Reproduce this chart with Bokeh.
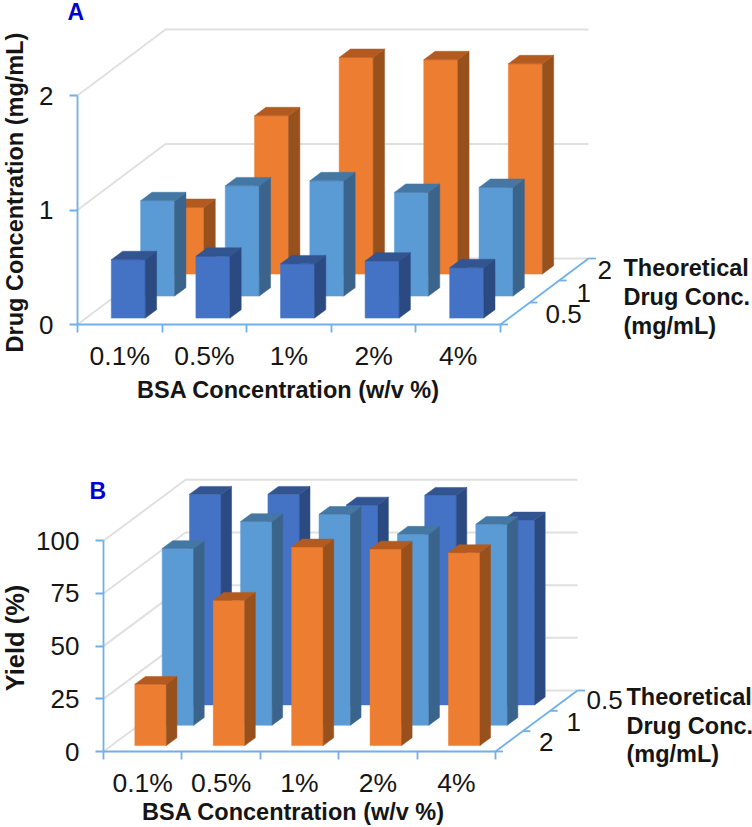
from bokeh.plotting import figure
from bokeh.layouts import column
from bokeh.models import LinearAxis, FixedTicker, Range1d, Label
from bokeh.embed import file_html
from bokeh.resources import INLINE

categories = ["0.1%", "0.5%", "1%", "2%", "4%"]

# Panel A: drug concentration (mg/mL), front to back
a_depth_labels = ["0.5", "1", "2"]
a_conc_05 = [0.51, 0.54, 0.474, 0.498, 0.44]
a_conc_1 = [0.833, 0.963, 1.007, 0.906, 0.949]
a_conc_2 = [0.582, 1.383, 1.892, 1.872, 1.837]
a_ticks = [0, 1, 2]

# Panel B: yield (%), front to back
b_depth_labels = ["2", "1", "0.5"]
b_yield_2 = [29.1, 69.0, 94.3, 93.3, 91.6]
b_yield_1 = [83.9, 96.7, 100.1, 90.7, 95.4]
b_yield_05 = [100.0, 100.0, 94.9, 99.5, 87.8]
b_ticks = [0, 25, 50, 75, 100]

DARK = ("#4472c4", "#2c4a82", "#325490")
LIGHT = ("#5b9bd5", "#3a648c", "#4477a3")
ORANGE = ("#ed7d31", "#98501c", "#b35a20")

AXIS = "#6fb0ea"
GRID = "#e0e0e0"
INK = "#151515"
SANS = "Liberation Sans"


def panel(height, y0, x0, cw, vs, dx, dy, ticks, series, depth_labels, label_px):
    """dx, dy: screen offset of one depth step; cw: px per category; vs: px per value unit."""
    W = 752
    X = lambda px: (px - x0) / cw
    Y = lambda py: (y0 - py) / vs
    ddx, ddy = dx / cw, dy / vs

    p = figure(width=W, height=height, output_backend="svg", toolbar_location=None,
               x_range=Range1d(X(0), X(W)), y_range=Range1d(Y(height), Y(0)),
               x_axis_type=None, y_axis_type=None,
               min_border_left=0, min_border_right=0, min_border_top=0,
               min_border_bottom=0, outline_line_color=None)
    p.xgrid.visible = False
    p.ygrid.visible = False

    # walls and floor
    for t in ticks:
        p.line([0, 3 * ddx, 5 + 3 * ddx], [t, t + 3 * ddy, t + 3 * ddy],
               line_color=GRID, line_width=2)

    # bars, back row first
    front_d, back_d, bar_w = 0.29, 0.675, 0.402
    for d in reversed(range(3)):
        vals, (c_front, c_side, c_top) = series[d]
        for i, v in enumerate(vals):
            l = i + (1 - bar_w) / 2
            r = l + bar_w
            fx, fy = (d + front_d) * ddx, (d + front_d) * ddy
            bx, by = (d + back_d) * ddx, (d + back_d) * ddy
            p.patch([l + fx, r + fx, r + fx, l + fx], [fy, fy, v + fy, v + fy],
                    fill_color=c_front, line_color=c_front, line_width=0.5)
            p.patch([r + fx, r + bx, r + bx, r + fx], [fy, by, v + by, v + fy],
                    fill_color=c_side, line_color=c_side, line_width=0.5)
            p.patch([l + fx, r + fx, r + bx, l + bx], [v + fy, v + fy, v + by, v + by],
                    fill_color=c_top, line_color=c_top, line_width=0.5)

    # depth axis
    p.line([5, 5 + 3 * ddx], [0, 3 * ddy], line_color=AXIS, line_width=1.8)
    for d in range(4):
        p.line([5 + d * ddx, 5 + d * ddx + 7.5 / cw], [d * ddy, d * ddy],
               line_color=AXIS, line_width=1.8)

    # real axes, pinned inside the full-page frame
    xa = LinearAxis(ticker=FixedTicker(ticks=[i + 0.5 for i in range(5)],
                                       minor_ticks=list(range(6))),
                    bounds=(0, 5), fixed_location=0,
                    major_label_overrides={i + 0.5: c for i, c in enumerate(categories)},
                    axis_line_color=AXIS, axis_line_width=1.8,
                    major_tick_line_color=None, major_tick_in=0, major_tick_out=0,
                    minor_tick_line_color=AXIS, minor_tick_line_width=1.8,
                    minor_tick_in=0, minor_tick_out=8,
                    major_label_standoff=label_px["xstand"],
                    major_label_text_font=SANS, major_label_text_font_size="26.5px",
                    major_label_text_color=INK)
    p.add_layout(xa, "below")
    ya = LinearAxis(ticker=FixedTicker(ticks=ticks, minor_ticks=[]),
                    bounds=(ticks[0], ticks[-1]), fixed_location=0,
                    axis_line_color=AXIS, axis_line_width=1.8,
                    major_tick_line_color=AXIS, major_tick_line_width=1.8,
                    major_tick_in=0, major_tick_out=8, minor_tick_line_color=None,
                    major_label_standoff=16,
                    major_label_text_font=SANS, major_label_text_font_size="26px",
                    major_label_text_color=INK)
    p.add_layout(ya, "left")

    # free texts
    def lab(text, px, py, size, bold=True, color=INK, angle=0, align="left"):
        p.add_layout(Label(x=X(px), y=Y(py), text=text, text_font=SANS,
                           text_font_size=f"{size}px",
                           text_font_style="bold" if bold else "normal",
                           text_color=color, angle=angle, angle_units="deg",
                           text_align=align, text_baseline="middle"))

    for text, (px, py) in zip(depth_labels, label_px["depth"]):
        lab(text, px, py, 26, bold=False)
    lab(label_px["ytitle"][0], *label_px["ytitle"][1:3], label_px["ytitle"][3], angle=90, align="center")
    lab("BSA Concentration (w/v %)", *label_px["xtitle"], 23.5, align="center")
    for line, (px, py) in zip(["Theoretical", "Drug Conc.", "(mg/mL)"], label_px["theo"]):
        lab(line, px, py, 23.5)
    lab(label_px["letter"][0], *label_px["letter"][1:], 23, color="#0000d0")
    return p


pa = panel(415, 324, 77, 84.6, 114.5, 88 / 3, 22.0, a_ticks,
           [(a_conc_05, DARK), (a_conc_1, LIGHT), (a_conc_2, ORANGE)], a_depth_labels,
           dict(xstand=8,
                depth=[(545, 313), (576, 292), (597, 269)],
                ytitle=("Drug Concentration (mg/mL)", 14, 192, 23.5),
                xtitle=(288, 389),
                theo=[(623, 267), (623, 296), (623, 325)],
                letter=("A", 67, 11)))
pb = panel(412, 336, 103, 78.4, 2.107, 82 / 3, 61 / 3, b_ticks,
           [(b_yield_2, ORANGE), (b_yield_1, LIGHT), (b_yield_05, DARK)], b_depth_labels,
           dict(xstand=8,
                depth=[(538.5, 326), (566, 306), (586, 284)],
                ytitle=("Yield (%)", 14, 222.5, 25.5),
                xtitle=(293, 396.5),
                theo=[(626, 281.5), (626, 310), (626, 338)],
                letter=("B", 89, 75.5)))

page = column(pa, pb, spacing=0)
open("out.html", "w").write(file_html(page, INLINE))
